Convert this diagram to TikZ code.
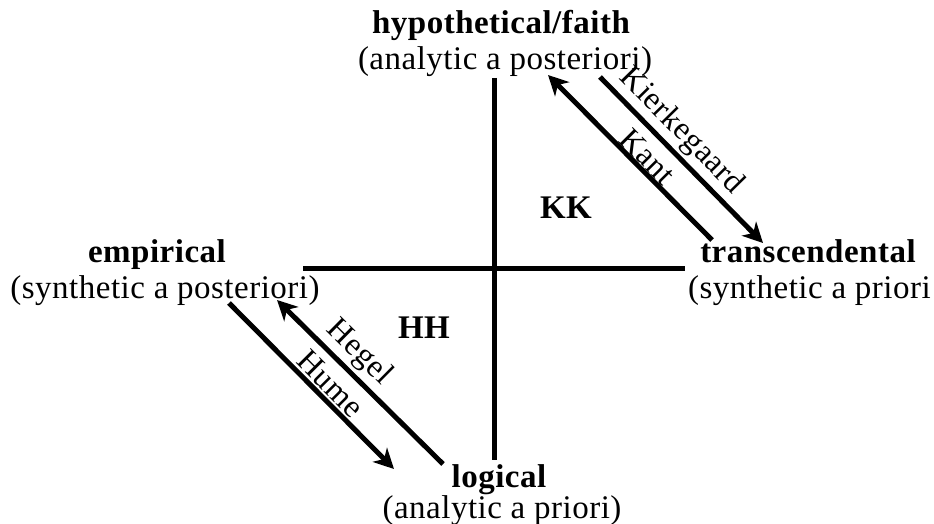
\documentclass[tikz,border=0pt]{standalone}
\usepackage{fontspec}
\setmainfont{Liberation Serif}[LetterSpace=1.5]
\usetikzlibrary{arrows.meta}
\begin{document}
\begin{tikzpicture}[x=1pt,y=-1pt,
  lbl/.style={font=\fontsize{33}{38}\selectfont, inner sep=0pt, anchor=base},
  ttl/.style={font=\fontsize{33}{38}\selectfont\bfseries, inner sep=0pt, anchor=base},
  axisline/.style={line width=5pt},
  arr/.style={line width=5pt, -{Stealth[length=20pt,width=20pt,inset=6pt]}},
  rarr/.style={line width=5pt, {Stealth[length=20pt,width=20pt,inset=6pt]}-},
  side/.style={font=\fontsize{32}{36}\selectfont, inner sep=0pt, sloped}
]
\useasboundingbox (0,0) rectangle (934,524);
% axes
\coordinate (vtop) at (494,78);
\coordinate (vbot) at (494,460);
\coordinate (hleft) at (303,268);
\coordinate (hright) at (685,268);
\draw[axisline] (vtop) -- (vbot);
\draw[axisline] (hleft) -- (hright);
% corner texts
\node[ttl] (hypT) at (501,34) {hypothetical/faith};
\node[lbl] (hypS) at (505,70) {(analytic a posteriori)};
\node[ttl] (empT) at (157,262) {empirical};
\node[lbl] (empS) at (165,298) {(synthetic a posteriori)};
\node[ttl] (traT) at (808,262) {transcendental};
\node[lbl, anchor=base west] (traS) at (688,298) {(synthetic a priori};
\node[ttl] (logT) at (499,487) {logical};
\node[lbl] (logS) at (502,518) {(analytic a priori)};
\node[ttl] (KK) at (566,218) {KK};
\node[ttl] (HH) at (424,338) {HH};
% arrows
\coordinate (kantTip) at (548,75);
\coordinate (kantEnd) at (712,240);
\coordinate (kierStart) at (600,77);
\coordinate (kierTip) at (763,243);
\coordinate (hegTip) at (277,300);
\coordinate (hegEnd) at (443,464);
\coordinate (humStart) at (229,303);
\coordinate (humTip) at (394,469);
\draw[rarr] (kantTip) -- node[side, pos=0.55, above=0pt] (kantL) {Kant} (kantEnd);
\draw[arr] (kierStart) -- node[side, pos=0.41, above=3pt] (kierL) {Kierkegaard} (kierTip);
\draw[rarr] (hegTip) -- node[side, pos=0.41, above=3pt] (hegL) {Hegel} (hegEnd);
\draw[arr] (humStart) -- node[side, pos=0.55, above=2pt] (humL) {Hume} (humTip);
\end{tikzpicture}
\end{document}
